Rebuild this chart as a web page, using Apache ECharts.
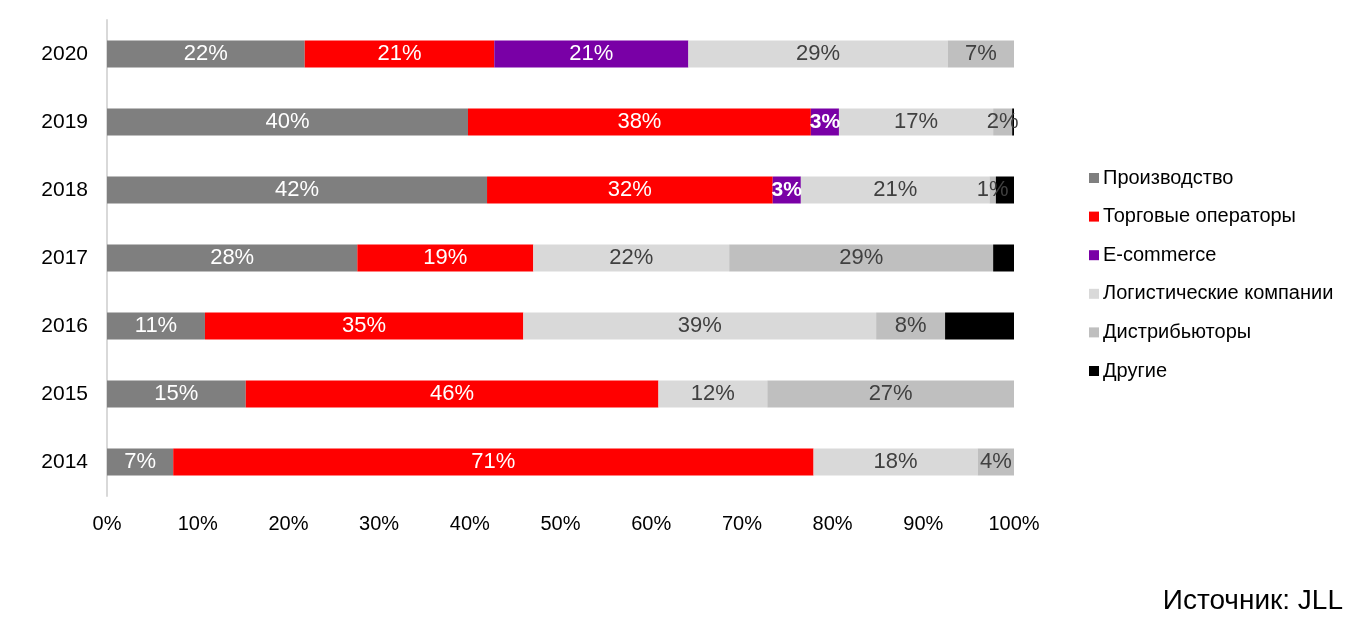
<!DOCTYPE html>
<html>
<head>
<meta charset="utf-8">
<script src="https://cdn.jsdelivr.net/npm/echarts@6/dist/echarts.min.js"></script>
<style>
html,body{margin:0;padding:0;background:#fff;}
#chart{width:1371px;height:629px;}
</style>
</head>
<body>
<div id="chart"></div>
<script>
const years = ['2014','2015','2016','2017','2018','2019','2020'];
const seriesNames = ['Производство','Торговые операторы','E-commerce','Логистические компании','Дистрибьюторы','Другие'];
const production  = [7.3, 15.3, 10.8, 27.6, 41.9, 39.8, 21.8];
const retail      = [70.6, 45.5, 35.1, 19.4, 31.5, 37.8, 20.9];
const ecommerce   = [0, 0, 0, 0, 3.1, 3.1, 21.4];
const logistics   = [18.1, 12.0, 38.9, 21.6, 20.8, 17.0, 28.6];
const distributors= [4.0, 27.2, 7.6, 29.1, 0.7, 2.1, 7.3];
const others      = [0, 0, 7.6, 2.3, 2.0, 0.2, 0];
const xTicks = [0,10,20,30,40,50,60,70,80,90,100];

const colors = ['#7f7f7f','#ff0000','#7900a6','#d9d9d9','#bfbfbf','#000000'];
const labelColors = ['#ffffff','#ffffff','#ffffff','#404040','#404040',null];
const dataSets = [production, retail, ecommerce, logistics, distributors, others];

const chart = echarts.init(document.getElementById('chart'));
const font = '"Liberation Sans", Arial, sans-serif';

const series = dataSets.map((d, i) => ({
  name: seriesNames[i],
  type: 'bar',
  stack: 'total',
  barWidth: 27,
  data: d,
  itemStyle: {color: colors[i]},
  label: {
    show: labelColors[i] !== null,
    position: 'inside',
    color: labelColors[i] || '#fff',
    fontFamily: font,
    fontSize: 22,
    formatter: p => {
      if (!(p.value > 0)) return '';
      const t = Math.round(p.value) + '%';
      return (i === 2 && p.value < 5) ? '{b|' + t + '}' : t;
    },
    rich: {b: {fontWeight: 'bold', fontSize: 21, color: '#fff', fontFamily: font}}
  },
  emphasis: {disabled: true}
}));

chart.setOption({
  animation: false,
  backgroundColor: '#fff',
  grid: {left: 107, right: 357, top: 20, bottom: 133, containLabel: false},
  xAxis: {
    type: 'value', min: 0, max: 100, interval: 10,
    axisLine: {show: false}, axisTick: {show: false}, splitLine: {show: false},
    axisLabel: {color: '#000', fontFamily: font, fontSize: 20, margin: 18,
      formatter: v => v + '%'}
  },
  yAxis: {
    type: 'category', data: years,
    axisLine: {show: true, lineStyle: {color: '#d9d9d9', width: 2}},
    axisTick: {show: false},
    axisLabel: {color: '#000', fontFamily: font, fontSize: 21, margin: 19}
  },
  legend: {
    orient: 'vertical', left: 1084, top: 162,
    itemWidth: 10, itemHeight: 10, itemGap: 16.6,
    icon: 'rect',
    textStyle: {color: '#000', fontFamily: font, fontSize: 20, lineHeight: 22, padding: [0,0,0,-1]},
    data: seriesNames
  },
  graphic: [{
    type: 'text', right: 28, top: 587,
    style: {text: 'Источник: JLL', fill: '#000', font: '28px "Liberation Sans", Arial, sans-serif'}
  }],
  series: series
});
</script>
</body>
</html>
